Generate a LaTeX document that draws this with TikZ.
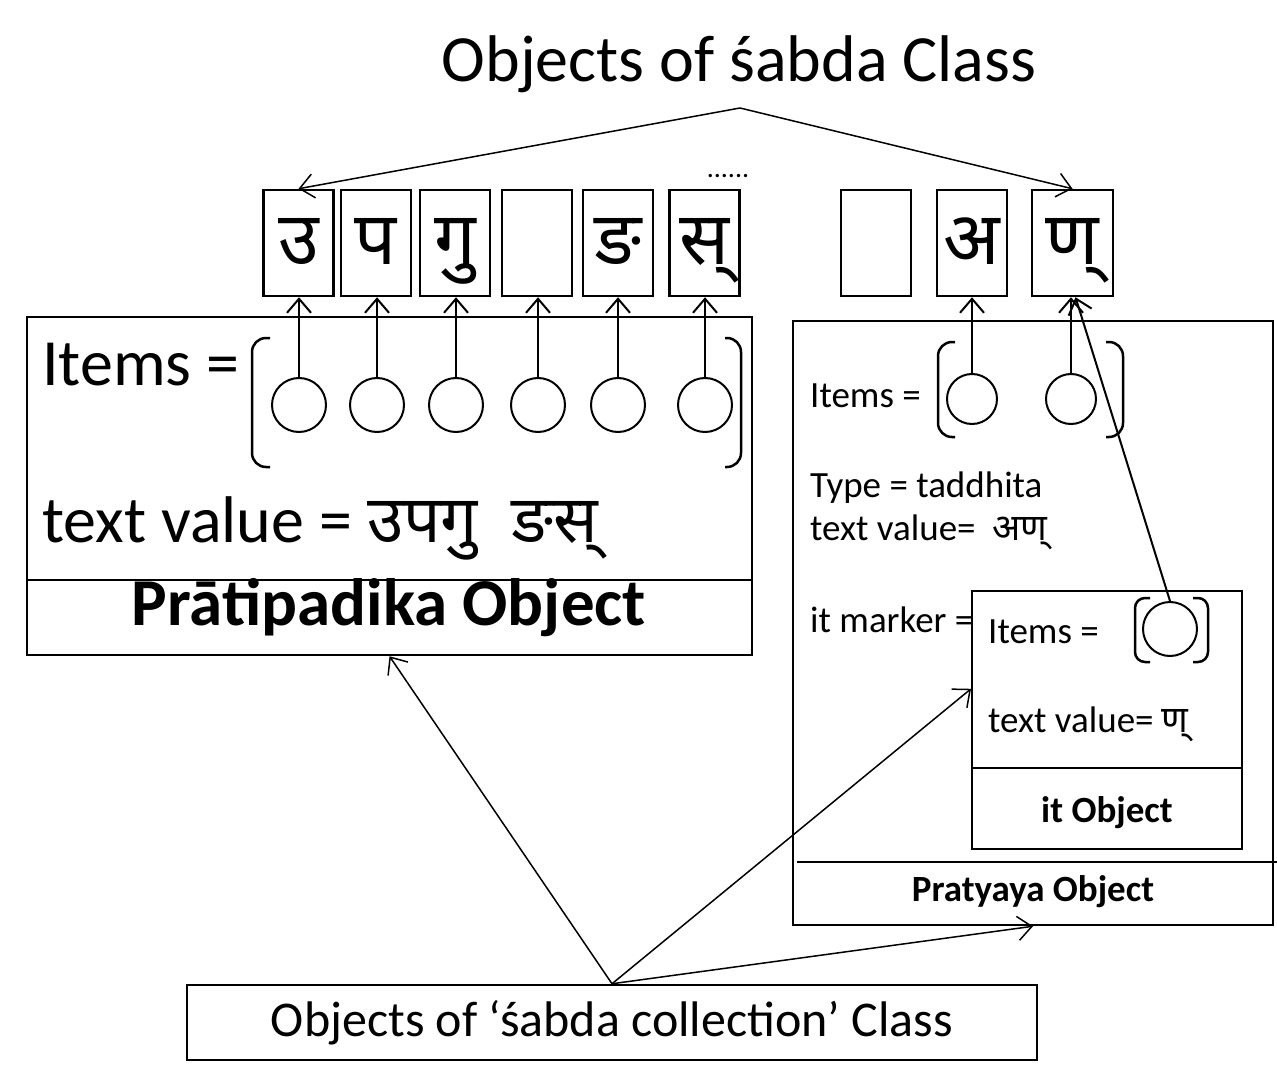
\documentclass[tikz,border=0pt]{standalone}
\usepackage{fontspec}
\setmainfont{Carlito}
\newfontfamily\devafont[Script=Devanagari]{Noto Sans}
\usetikzlibrary{arrows.meta,calc}

\tikzset{
  lbox/.style={draw, line width=2.5pt, minimum width=70pt, minimum height=106pt,
    inner sep=0pt, text height=52pt, text depth=8pt,
    font=\devafont\fontsize{74}{80}\selectfont},
  obox/.style={draw, line width=2.5pt, inner sep=0pt},
  slot/.style={draw, circle, line width=2pt, inner sep=0pt},
  link/.style={line width=1.5pt, -{Straight Barb[length=14pt,width=24pt]}},
  brk/.style={line width=2.5pt, rounded corners=14pt},
  txt/.style={anchor=base west, inner sep=0pt},
  bigfont/.style={font=\fontsize{66}{72}\selectfont},
  smallfont/.style={font=\fontsize{37}{40}\selectfont},
}

\begin{document}
\begin{tikzpicture}[x=1pt,y=-1pt]
\useasboundingbox (0,0) rectangle (1277,1083);

% title
\node[anchor=base, inner sep=0pt, font=\fontsize{66}{72}\selectfont] (title) at (739,82) {Objects of śabda Class};
\coordinate (apex) at (740,108);

% letters
\node[lbox] (b1) at (298.5,243) {उ};
\node[lbox] (b2) at (376,243) {प};
\node[lbox] (b3) at (455,243) {गु};
\node[lbox] (b4) at (537,243) {};
\node[lbox] (b5) at (618,243) {ङ};
\node[lbox] (b6) at (704.5,243) {स्};
\node[anchor=base, inner sep=0pt, font=\fontsize{28}{30}\selectfont] (dots) at (728,178) {......};
\node[lbox] (b7) at (876,243) {};
\node[lbox] (b8) at (972,243) {अ};
\node[lbox, minimum width=81pt] (b9) at (1072.5,243) {ण्};

\draw[link] (apex) -- (b1.north);
\draw[link] (apex) -- (b9.north);

% Pratipadika object
\node[obox, minimum width=725pt, minimum height=338pt] (prati) at (389.5,486) {};
\draw[line width=2pt] (27,580) -- (752,580);
\node[txt, bigfont] (pitems) at (42,385) {Items =};
\draw[brk] (270,338) -- (252,338) -- (252,467) -- (270,467);
\draw[brk] (725,338) -- (741,338) -- (741,467) -- (725,467);
\node[slot, minimum size=54pt] (c1) at (299,405) {};
\node[slot, minimum size=54pt] (c2) at (377,405) {};
\node[slot, minimum size=54pt] (c3) at (456,405) {};
\node[slot, minimum size=54pt] (c4) at (538,405) {};
\node[slot, minimum size=54pt] (c5) at (618,405) {};
\node[slot, minimum size=54pt] (c6) at (705,405) {};
\foreach \i in {1,...,6}
  \draw[link, line width=2pt] (c\i.north) -- (c\i.north |- b\i.south);
\node[txt, bigfont] (ptext) at (42,542) {text value = {\devafont उपगु\hspace{0.25em} ङस्}};
\node[anchor=base, inner sep=0pt, font=\bfseries\fontsize{67}{72}\selectfont] (pname) at (389,625) {Prātipadika Object};

% Pratyaya object
\node[obox, minimum width=480pt, minimum height=604pt] (praty) at (1033,623) {};
\draw[line width=2pt] (797,862) -- (1277,862);
\node[txt, smallfont] (ritems) at (810,407) {Items =};
\draw[brk] (955,342) -- (938,342) -- (938,437) -- (955,437);
\draw[brk] (1106,342) -- (1123,342) -- (1123,437) -- (1106,437);
\node[slot, minimum size=50pt] (r1) at (972,399) {};
\node[slot, minimum size=50pt] (r2) at (1071,399) {};
\draw[link, line width=2pt] (r1.north) -- (r1.north |- b8.south);
\draw[link, line width=2pt] (r2.north) -- (r2.north |- b9.south);
\node[txt, smallfont] (rtype) at (810,497) {Type = taddhita};
\node[txt, smallfont] (rtext) at (810,540) {text value=\ \ {\devafont अण्}};
\node[txt, smallfont] (rmark) at (810,632) {it marker =};
\node[anchor=base, inner sep=0pt, font=\bfseries\fontsize{37}{40}\selectfont] (rname) at (1033,901) {Pratyaya Object};

% it object
\node[obox, fill=white, line width=2pt, minimum width=270pt, minimum height=258pt] (itobj) at (1107,720) {};
\draw[line width=2pt] (972,768) -- (1242,768);
\node[txt, smallfont] (iitems) at (988,643) {Items =};
\draw[brk, rounded corners=10pt] (1150,598) -- (1135,598) -- (1135,662) -- (1150,662);
\draw[brk, rounded corners=10pt] (1193,598) -- (1208,598) -- (1208,662) -- (1193,662);
\node[slot, minimum size=54pt] (ic) at (1170,629) {};
\draw[link, line width=2pt] (ic.north) -- ([xshift=3pt]b9.south);
\node[txt, smallfont] (itext) at (988,732) {text value= {\devafont ण्}};
\node[anchor=base, inner sep=0pt, font=\bfseries\fontsize{37}{40}\selectfont] (iname) at (1107,822) {it Object};

% collection
\node[obox, minimum width=850pt, minimum height=75pt, font=\fontsize{50}{54}\selectfont] (coll) at (612,1022.5) {Objects of ‘śabda collection’ Class};
\draw[link] (coll.north) -- (prati.south);
\draw[link] (coll.north) -- ($(itobj.north west)!0.38!(itobj.south west)$);
\draw[link] (coll.north) -- (praty.south);
\end{tikzpicture}
\end{document}
